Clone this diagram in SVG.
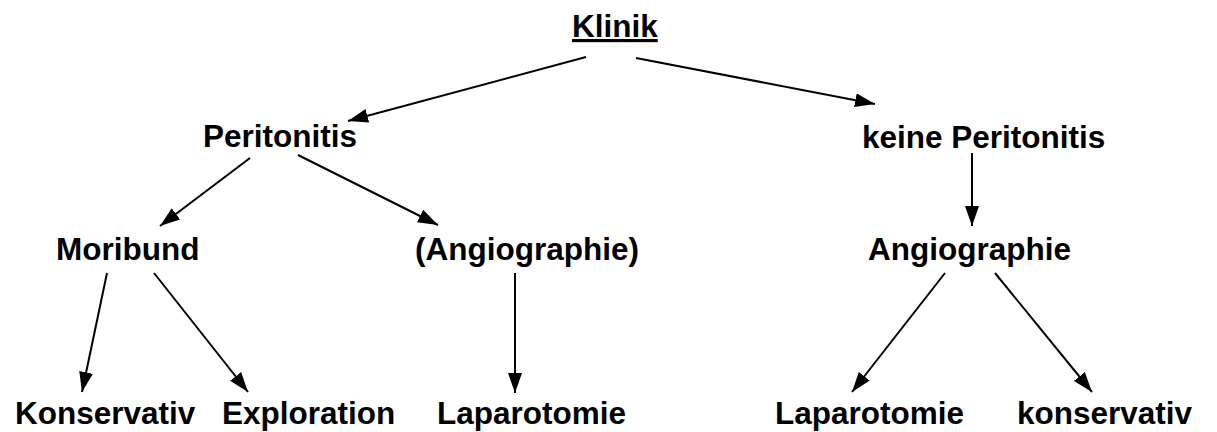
<svg xmlns="http://www.w3.org/2000/svg" width="1217" height="432" viewBox="0 0 1217 432">
<style>
text{font-family:"Liberation Sans",Arial,sans-serif;font-weight:bold;font-size:31.5px;fill:#000}
.c line{stroke:#000;stroke-width:2;marker-end:url(#ah)}
</style>
<defs>
<marker id="ah" markerUnits="userSpaceOnUse" markerWidth="22" markerHeight="16" refX="20" refY="7" orient="auto">
<path d="M0,0 L20,7 L0,14 z" fill="#000"/>
</marker>
</defs>
<rect width="1217" height="432" fill="#fff"/>
<g id="klinik"><text x="572" y="37" text-decoration="underline">Klinik</text></g>
<g id="peritonitis"><text x="203" y="147">Peritonitis</text></g>
<g id="keine-peritonitis"><text x="862" y="148">keine Peritonitis</text></g>
<g id="moribund"><text x="56" y="260">Moribund</text></g>
<g id="angiographie-paren"><text x="415" y="260">(Angiographie)</text></g>
<g id="angiographie"><text x="868" y="260">Angiographie</text></g>
<g id="konservativ-left"><text x="15" y="424">Konservativ</text></g>
<g id="exploration"><text x="222" y="424">Exploration</text></g>
<g id="laparotomie-mid"><text x="437" y="424">Laparotomie</text></g>
<g id="laparotomie-right"><text x="775" y="424">Laparotomie</text></g>
<g id="konservativ-right"><text x="1017" y="424">konservativ</text></g>
<g class="c" id="connectors">
<line x1="586" y1="57" x2="348" y2="121"/>
<line x1="636" y1="58" x2="875" y2="104"/>
<line x1="250" y1="158" x2="160" y2="226"/>
<line x1="298" y1="155" x2="438" y2="225"/>
<line x1="972" y1="153" x2="972" y2="226"/>
<line x1="107" y1="273" x2="82" y2="392"/>
<line x1="154" y1="273" x2="248" y2="392"/>
<line x1="515" y1="273" x2="515" y2="393"/>
<line x1="945" y1="273" x2="852" y2="392"/>
<line x1="995" y1="273" x2="1092" y2="392"/>
</g>
</svg>
